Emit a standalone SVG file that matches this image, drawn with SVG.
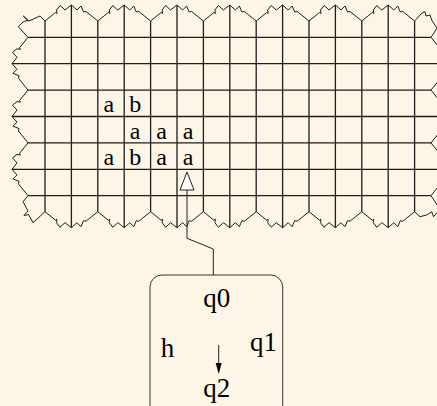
<svg xmlns="http://www.w3.org/2000/svg" xmlns:xlink="http://www.w3.org/1999/xlink" width="437" height="406" viewBox="0 0 437 406">
<style>
.grid{stroke:#1e1e1e;stroke-width:1.3;fill:none}
.edge{stroke:#1e1e1e;stroke-width:1;fill:none;stroke-linejoin:miter}
.sym{font-family:"Liberation Serif","Times New Roman",serif;font-size:24px;fill:#000;text-anchor:middle}
.lbl{font-family:"Liberation Serif","Times New Roman",serif;font-size:27px;fill:#000;text-anchor:middle}
.conn{stroke:#222;stroke-width:1;fill:none}
</style>
<defs>
<path id="tooth" class="edge" d="M0,0 L10.5,-8.5 L12,-7.5 L11.5,-11 L15,-15.5 L20,-11 L26.4,-16 L32,-11 L36,-15 L38.5,-9 L41,-9.5 L52.8,0"/>
<marker id="openHead" markerUnits="userSpaceOnUse" markerWidth="22" markerHeight="18" refX="1" refY="8" orient="auto" overflow="visible">
<path d="M1,1 L19,8 L1,15 Z" fill="#fff" stroke="#222" stroke-width="1"/>
</marker>
<marker id="solidHead" markerUnits="userSpaceOnUse" markerWidth="12" markerHeight="8" refX="0" refY="3" orient="auto" overflow="visible">
<path d="M0,0 L11,3 L0,6 Z" fill="#000"/>
</marker>
</defs>
<rect width="437" height="406" fill="#fdf5e6"/>
<g id="tape" transform="translate(45,37.3)">
<g id="grid-lines" class="grid">
<path d="M0,-16.3V174.4 M52.8,-16.3V174.4 M105.6,-16.3V174.4 M158.4,-16.3V174.4 M211.2,-16.3V174.4 M264,-16.3V174.4 M316.8,-16.3V174.4 M369.6,-16.3V174.4"/>
<path d="M26.4,-32.3V190.4 M79.2,-32.3V190.4 M132,-32.3V190.4 M184.8,-32.3V190.4 M237.6,-32.3V190.4 M290.4,-32.3V190.4 M343.2,-32.3V190.4"/>
<path d="M-17,0H386 M-17,52.8H386 M-17,105.6H386 M-17,158.4H386"/>
<path d="M-33,26.4H402 M-33,79.2H402 M-33,132H402"/>
</g>
<g id="torn-edges">
<use xlink:href="#tooth" href="#tooth" transform="translate(0,-16.3)"/>
<use xlink:href="#tooth" href="#tooth" transform="translate(52.8,-16.3)"/>
<use xlink:href="#tooth" href="#tooth" transform="translate(105.6,-16.3)"/>
<use xlink:href="#tooth" href="#tooth" transform="translate(158.4,-16.3)"/>
<use xlink:href="#tooth" href="#tooth" transform="translate(211.2,-16.3)"/>
<use xlink:href="#tooth" href="#tooth" transform="translate(264,-16.3)"/>
<use xlink:href="#tooth" href="#tooth" transform="translate(316.8,-16.3)"/>
<use xlink:href="#tooth" href="#tooth" transform="translate(0,174.4) scale(1,-1)"/>
<use xlink:href="#tooth" href="#tooth" transform="translate(52.8,174.4) scale(1,-1)"/>
<use xlink:href="#tooth" href="#tooth" transform="translate(105.6,174.4) scale(1,-1)"/>
<use xlink:href="#tooth" href="#tooth" transform="translate(158.4,174.4) scale(1,-1)"/>
<use xlink:href="#tooth" href="#tooth" transform="translate(211.2,174.4) scale(1,-1)"/>
<use xlink:href="#tooth" href="#tooth" transform="translate(264,174.4) scale(1,-1)"/>
<use xlink:href="#tooth" href="#tooth" transform="translate(316.8,174.4) scale(1,-1)"/>
<use xlink:href="#tooth" href="#tooth" transform="matrix(0,1,1,0,-17,0)"/>
<use xlink:href="#tooth" href="#tooth" transform="matrix(0,1,1,0,-17,52.8)"/>
<use xlink:href="#tooth" href="#tooth" transform="matrix(0,1,1,0,-17,105.6)"/>
<use xlink:href="#tooth" href="#tooth" transform="matrix(0,1,-1,0,386,0)"/>
<use xlink:href="#tooth" href="#tooth" transform="matrix(0,1,-1,0,386,52.8)"/>
<use xlink:href="#tooth" href="#tooth" transform="matrix(0,1,-1,0,386,105.6)"/>
<path class="edge" d="M0,-16.3 L-5,-21.3 L-16,-16.3 L-21.7,-21.3 L-17,-16.6 L-20,-16.3 L-22,-15.3 L-26.7,-10.6 L-17,0"/>
<path class="edge" d="M-17,158.4 L-22,164.4 L-17,173.7 L-21,178.2 L-16.5,177.2 L-12,185.4 L0,174.4"/>
<path class="edge" d="M369.6,-16.3 L376.7,-24 L380,-25.6 L381,-21.3 L385,-22.3 L386.7,-17.3 L392,-9 L386,0"/>
<path class="edge" d="M369.6,174.4 L375,179.4 L381.7,177.7 L386.7,174.4 L388.5,179.4 L395,172 L386,158.4"/>
</g>
</g>
<g id="cells">
<text class="sym" x="108.8" y="112">a</text>
<text class="sym" x="135.2" y="112">b</text>
<text class="sym" x="135.2" y="138.5">a</text>
<text class="sym" x="161.6" y="138.5">a</text>
<text class="sym" x="188" y="138.5">a</text>
<text class="sym" x="108.8" y="164.5">a</text>
<text class="sym" x="135.2" y="164.5">b</text>
<text class="sym" x="161.6" y="164.5">a</text>
<text class="sym" x="188" y="164.5">a</text>
</g>
<g id="head">
<rect x="150" y="275" width="132.7" height="160" rx="12" ry="12" fill="none" stroke="#333" stroke-width="1"/>
<text class="lbl" x="216.7" y="307">q0</text>
<text class="lbl" x="167.5" y="357">h</text>
<text class="lbl" x="263.5" y="351">q1</text>
<text class="lbl" x="216.7" y="397">q2</text>
</g>
<g id="connectors">
<path class="conn" d="M213.3,275 V249 L187,238.3 V190" marker-end="url(#openHead)"/>
<path class="conn" d="M218.7,345 V363" marker-end="url(#solidHead)"/>
</g>
</svg>
